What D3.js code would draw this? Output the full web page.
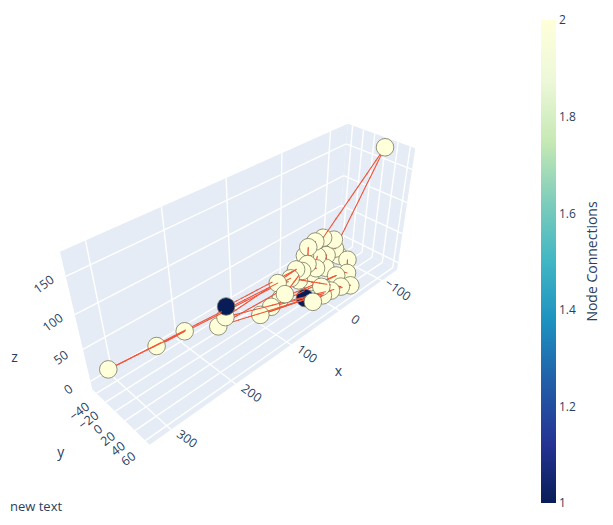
<!DOCTYPE html>
<html><head><meta charset="utf-8">
<script src="https://cdn.jsdelivr.net/npm/d3@7"></script>
<style>
body{margin:0;background:#fff;}
text{font-family:"Open Sans",verdana,arial,sans-serif;fill:#2a3f5f;}
</style>
</head><body>
<svg id="chart" width="613" height="525"></svg>
<script>
// ---------------- data ----------------
const xRange = [-139, 330];
const yRange = [-49, 68];
const zRange = [-13, 180];
const xTicks = [-100, 0, 100, 200, 300];
const yTicks = [-40, -20, 0, 20, 40, 60];
const zTicks = [0, 50, 100, 150];
const cbTicks = [1, 1.2, 1.4, 1.6, 1.8, 2];

// nodes listed in path order; consecutive nodes are linked
const nodeX = [150, 35.5, 152, -31.6, 160, 29.1, 71.8, 310, 210, 246, 46.2, -16, 100, -0.4, 79, -22.9, 60, 84, 22.6, -7.3, 0.9, 12, -5.6, -20.5, -37.6, -128, -67.5, -63.2, -78.2, -60.3, -48.5, -28.6, -48.3, -26.9, 1.3, 9.2, 10.7, 38, 31.6];
const nodeY = [-2, 15, -2, 60, -8, 15, 15, -37, -14, -26, 15, 55, 10, 50, 10, 40, 10, 40, 15, 15, 0, 15, 0, 0, 0, 27, 0, 0, 0, 30, 40, 15, 0, 0, 15, 40, 45, 50, 30];
const nodeZ = [38, 46.7, 22, 9.4, 8, 25.6, 42.8, 14, 26, 17, 37.6, 12.7, 3, 11.4, 5, 20.4, 9, 44.6, 37.9, 27.8, 45.4, 44.1, 56.2, 58.8, 57.5, 172, 25.9, 43.1, 8.9, 24.2, 12.1, 18.5, 23.6, 31.6, 8.7, 17.6, 6.6, 12.9, 5.1];
const nodeConnections = [1, 2, 2, 2, 2, 2, 2, 2, 2, 2, 2, 2, 2, 2, 2, 2, 2, 2, 2, 2, 2, 2, 2, 2, 2, 2, 2, 2, 2, 2, 2, 2, 2, 2, 2, 2, 2, 2, 1];
const edgeSource = d3.range(nodeX.length - 1);
const edgeTarget = d3.range(1, nodeX.length);

// YlGnBu (plotly stops)
const ylgnbu = ['rgb(8,29,88)','rgb(37,52,148)','rgb(34,94,168)','rgb(29,145,192)','rgb(65,182,196)','rgb(127,205,187)','rgb(199,233,180)','rgb(237,248,217)','rgb(255,255,217)'];

// ---------------- camera (scene calibration) ----------------
// normalized box corners -> screen position of that corner in the scene
const sceneCorners = [
  [[1,0,1],[60,252]], [[0,0,1],[348,124]], [[0,1,1],[415,148]],
  [[0,1,0],[397,270]], [[1,1,0],[150,445]], [[1,0,0],[92,389]]
];
function solveDLT(pairs){
  const A=[], b=[];
  for(const [[X,Y,Z],[u,v]] of pairs){
    A.push([X,Y,Z,1,0,0,0,0,-u*X,-u*Y,-u*Z]); b.push(u);
    A.push([0,0,0,0,X,Y,Z,1,-v*X,-v*Y,-v*Z]); b.push(v);
  }
  const n=11, M=Array.from({length:n},()=>new Array(n+1).fill(0));
  for(let r=0;r<A.length;r++) for(let i=0;i<n;i++){
    for(let j=0;j<n;j++) M[i][j]+=A[r][i]*A[r][j];
    M[i][n]+=A[r][i]*b[r];
  }
  for(let c=0;c<n;c++){
    let p=c; for(let r=c+1;r<n;r++) if(Math.abs(M[r][c])>Math.abs(M[p][c])) p=r;
    [M[c],M[p]]=[M[p],M[c]];
    for(let r=0;r<n;r++){ if(r===c) continue; const f=M[r][c]/M[c][c]; for(let k=c;k<=n;k++) M[r][k]-=f*M[c][k]; }
  }
  return M.map((row,i)=>row[n]/row[i]);
}
const P = solveDLT(sceneCorners);
const sx = d3.scaleLinear().domain(xRange).range([0,1]);
const sy = d3.scaleLinear().domain(yRange).range([0,1]);
const sz = d3.scaleLinear().domain(zRange).range([0,1]);
function projN(u,v,w){
  const X=P[0]*u+P[1]*v+P[2]*w+P[3], Y=P[4]*u+P[5]*v+P[6]*w+P[7], W=P[8]*u+P[9]*v+P[10]*w+1;
  return [X/W, Y/W, W];
}
const proj = (x,y,z)=>projN(sx(x),sy(y),sz(z));

// ---------------- draw ----------------
const svg = d3.select('#chart');
const g = svg.append('g');
const bg = '#E5ECF6';
const poly = pts => 'M'+pts.map(p=>{const q=projN(...p);return q[0]+','+q[1];}).join('L')+'Z';
g.append('path').attr('d', poly([[0,0,0],[1,0,0],[1,1,0],[0,1,0]])).attr('fill',bg);
g.append('path').attr('d', poly([[0,0,0],[1,0,0],[1,0,1],[0,0,1]])).attr('fill',bg);
g.append('path').attr('d', poly([[0,0,0],[0,1,0],[0,1,1],[0,0,1]])).attr('fill',bg);

const grid = g.append('g').attr('stroke','#fff').attr('stroke-width',1.4).attr('fill','none');
function seg(a,b){ const p=projN(...a), q=projN(...b); grid.append('line').attr('x1',p[0]).attr('y1',p[1]).attr('x2',q[0]).attr('y2',q[1]); }
xTicks.forEach(t=>{ const u=sx(t); seg([u,0,0],[u,1,0]); seg([u,0,0],[u,0,1]); });
yTicks.forEach(t=>{ const v=sy(t); seg([0,v,0],[1,v,0]); seg([0,v,0],[0,v,1]); });
zTicks.forEach(t=>{ const w=sz(t); seg([0,0,w],[1,0,w]); seg([0,0,w],[0,1,w]); });

// tick labels
const fmt = d3.format('');
const lab = g.append('g').attr('font-size',12.5).attr('text-anchor','middle');
function tickLabel(p, off, ang, txt){
  const x=p[0]+off[0], y=p[1]+off[1];
  lab.append('text').attr('transform',`translate(${x},${y}) rotate(${ang})`).attr('dy','0.35em').text(txt);
}
xTicks.forEach(t=>tickLabel(proj(t,yRange[1],zRange[0]),[16,9],36,fmt(t)));
yTicks.forEach(t=>tickLabel(proj(xRange[1],t,zRange[0]),[-17,18],-37,fmt(t)));
zTicks.forEach(t=>tickLabel(proj(xRange[1],yRange[0],t),[-22,8],-36,fmt(t)));
const title = (p,off,txt)=>g.append('text').attr('x',p[0]+off[0]).attr('y',p[1]+off[1]).attr('dy','0.35em').attr('text-anchor','middle').attr('font-size',14).text(txt);
title(proj(d3.mean(xRange),yRange[1],zRange[0]),[45,28],'x');
title(proj(xRange[1],d3.mean(yRange),zRange[0]),[-59,36],'y');
title(proj(xRange[1],yRange[0],d3.mean(zRange)),[-63,31],'z');

// nodes + edges (painter's order by depth)
const color = d3.scaleLinear().domain(d3.range(9).map(i=>1+i/8)).range(ylgnbu);
const pts = nodeX.map((x,i)=>proj(x,nodeY[i],nodeZ[i]));
const items = [];
const N = 14;
edgeSource.forEach((s,k)=>{
  const t = edgeTarget[k];
  const a=[sx(nodeX[s]),sy(nodeY[s]),sz(nodeZ[s])], b=[sx(nodeX[t]),sy(nodeY[t]),sz(nodeZ[t])];
  for(let i=0;i<N;i++){
    const f0=i/N, f1=(i+1)/N, fm=(i+0.5)/N;
    const p0=projN(...a.map((v,j)=>v+(b[j]-v)*f0)), p1=projN(...a.map((v,j)=>v+(b[j]-v)*f1));
    const pm=projN(...a.map((v,j)=>v+(b[j]-v)*fm));
    items.push({type:'seg',p0,p1,depth:pm[2]});
  }
});
pts.forEach((p,i)=>items.push({type:'node',p,depth:p[2],c:nodeConnections[i]}));
items.sort((a,b)=>b.depth-a.depth);
const marks = g.append('g');
items.forEach(it=>{
  if(it.type==='seg'){
    marks.append('line').attr('x1',it.p0[0]).attr('y1',it.p0[1]).attr('x2',it.p1[0]).attr('y2',it.p1[1])
      .attr('stroke','#EF553B').attr('stroke-width',1.1).attr('stroke-linecap','round');
  } else {
    marks.append('circle').attr('cx',it.p[0]).attr('cy',it.p[1]).attr('r',8.8)
      .attr('fill',color(it.c)).attr('stroke','rgb(120,120,95)').attr('stroke-width',0.8);
  }
});

// annotation
svg.append('text').attr('x',10).attr('y',510.5).attr('font-size',13).text('new text');

// colorbar
const cbY = d3.scaleLinear().domain([1,2]).range([503,20]);
const defs = svg.append('defs');
const grad = defs.append('linearGradient').attr('id','cbg').attr('x1',0).attr('y1',1).attr('x2',0).attr('y2',0);
ylgnbu.forEach((c,i)=>grad.append('stop').attr('offset',i/8).attr('stop-color',c));
svg.append('rect').attr('x',541).attr('y',cbY(2)).attr('width',15).attr('height',cbY(1)-cbY(2)).attr('fill','url(#cbg)');
const cbAxis = svg.append('g').attr('transform','translate(556,0)')
  .call(d3.axisRight(cbY).tickValues(cbTicks).tickSize(0).tickPadding(3).tickFormat(d3.format('')));
cbAxis.select('.domain').remove();
cbAxis.selectAll('text').attr('font-size',12).attr('font-family','"Open Sans",verdana,arial,sans-serif').attr('fill','#2a3f5f');
svg.append('text').attr('transform',`translate(592,${(cbY(1)+cbY(2))/2}) rotate(-90)`).attr('text-anchor','middle')
  .attr('dy','0.35em').attr('font-size',14).text('Node Connections');
</script>
</body></html>
